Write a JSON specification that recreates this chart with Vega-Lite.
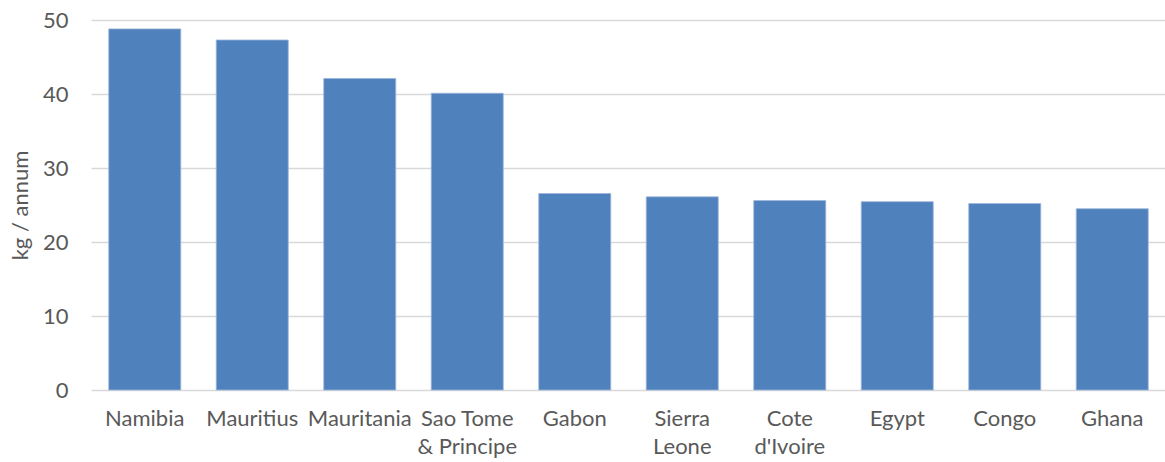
{
  "$schema": "https://vega.github.io/schema/vega-lite/v6.json",
  "width": 1075,
  "height": 370,
  "autosize": {"type": "none"},
  "padding": {"left": 91, "top": 20, "right": 0, "bottom": 72},
  "background": "white",
  "config": {
    "view": {"stroke": null},
    "font": "Lato"
  },
  "data": {
    "values": [
      {"country": "Namibia", "kg": 48.8},
      {"country": "Mauritius", "kg": 47.3},
      {"country": "Mauritania", "kg": 42.1},
      {"country": "Sao Tome|& Principe", "kg": 40.1},
      {"country": "Gabon", "kg": 26.55},
      {"country": "Sierra|Leone", "kg": 26.1},
      {"country": "Cote|d'Ivoire", "kg": 25.6},
      {"country": "Egypt", "kg": 25.45},
      {"country": "Congo", "kg": 25.2},
      {"country": "Ghana", "kg": 24.5}
    ]
  },
  "mark": {"type": "bar", "color": "#4F81BD", "stroke": "#9DB6DA", "strokeWidth": 0.8},
  "encoding": {
    "x": {
      "field": "country",
      "type": "nominal",
      "sort": null,
      "scale": {"paddingInner": 0.33, "paddingOuter": 0.165},
      "axis": {
        "title": null,
        "labelAngle": 0,
        "labelExpr": "split(datum.value, '|')",
        "labelFontSize": 22,
        "labelColor": "#595959",
        "labelPadding": 18,
        "labelLineHeight": 28,
        "labelBaseline": "top",
        "labelOverlap": false,
        "labelBound": false,
        "ticks": false,
        "domain": false
      }
    },
    "y": {
      "field": "kg",
      "type": "quantitative",
      "scale": {"domain": [0, 50], "nice": false},
      "axis": {
        "title": "kg / annum",
        "titleFontSize": 22,
        "titleFontWeight": "normal",
        "titleColor": "#595959",
        "titleX": -71,
        "titleY": 185,
        "titleAngle": -90,
        "titleAlign": "center",
        "titleBaseline": "middle",
        "values": [0, 10, 20, 30, 40, 50],
        "labelFontSize": 22,
        "labelColor": "#595959",
        "labelPadding": 23,
        "ticks": false,
        "domain": false,
        "grid": true,
        "gridColor": "#D9D9D9",
        "gridWidth": 1.5
      }
    }
  }
}
